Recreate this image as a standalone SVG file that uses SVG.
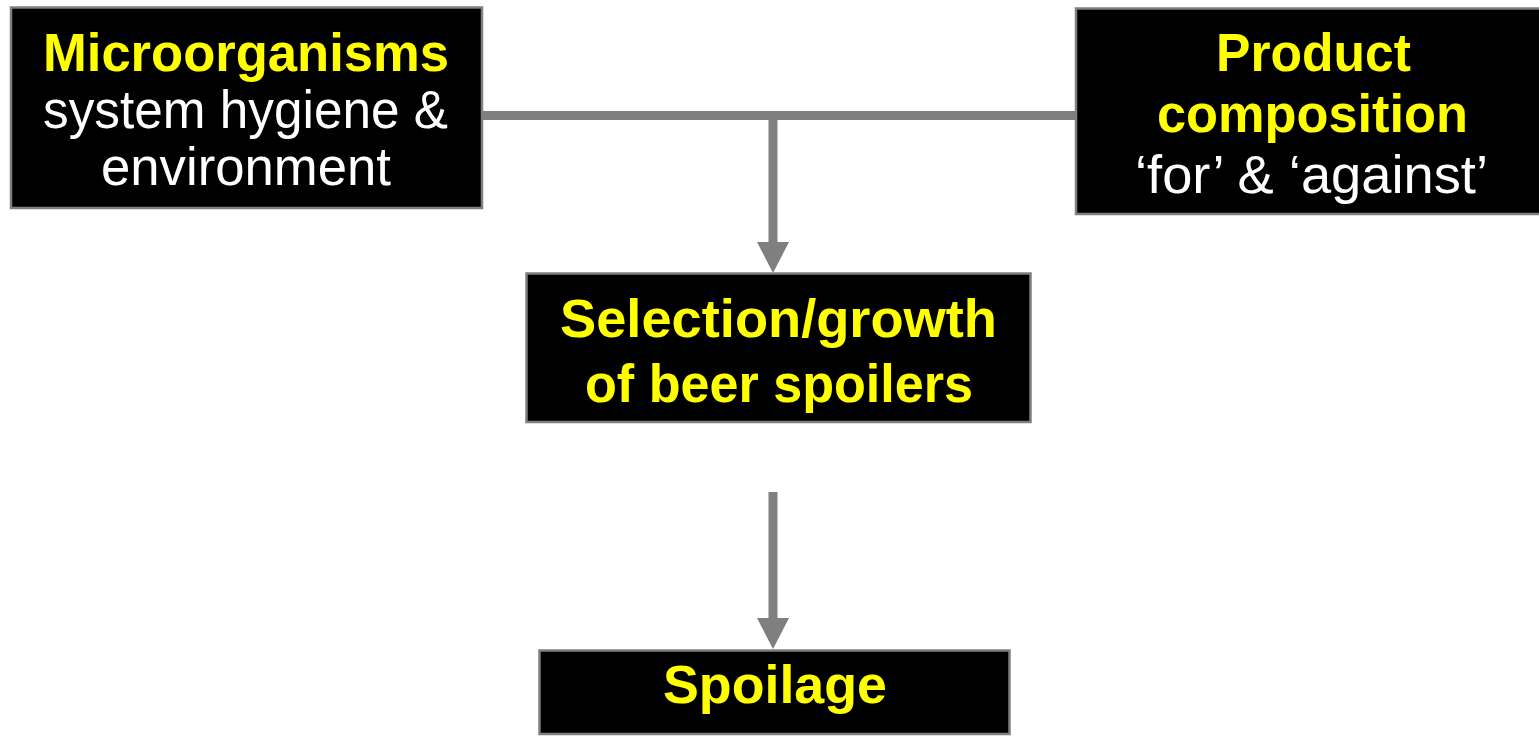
<svg xmlns="http://www.w3.org/2000/svg" width="1539" height="737" viewBox="0 0 1539 737">
<style>
.box{fill:#000;stroke:#7f7f7f;stroke-width:2.5}
.t{font-family:"Liberation Sans",Arial,sans-serif;font-size:53px}
.y{fill:#ffff00;font-weight:bold}
.w{fill:#fff}
.c{stroke:#7f7f7f;stroke-width:9;fill:none}
.h{fill:#7f7f7f}
</style>
<rect width="1539" height="737" fill="#fff"/>
<g id="connectors">
<line class="c" x1="482" y1="115.5" x2="1076" y2="115.5"/>
<line class="c" x1="773" y1="115" x2="773" y2="244"/>
<polygon class="h" points="757,242 789,242 773,273"/>
<line class="c" x1="773" y1="492" x2="773" y2="620"/>
<polygon class="h" points="757,618 789,618 773,649"/>
</g>
<g id="microorganisms">
<rect class="box" x="11" y="7.5" width="471" height="200.5"/>
<text class="t y" x="43" y="71" textLength="406" lengthAdjust="spacingAndGlyphs">Microorganisms</text>
<text class="t w" x="43" y="128" textLength="405" lengthAdjust="spacingAndGlyphs">system hygiene &amp;</text>
<text class="t w" x="101" y="185" textLength="290" lengthAdjust="spacingAndGlyphs">environment</text>
</g>
<g id="product">
<rect class="box" x="1076" y="8.5" width="466" height="205.5"/>
<text class="t y" x="1216" y="71" textLength="195" lengthAdjust="spacingAndGlyphs">Product</text>
<text class="t y" x="1157" y="132" textLength="311" lengthAdjust="spacingAndGlyphs">composition</text>
<text class="t w" x="1135" y="193" textLength="353" lengthAdjust="spacingAndGlyphs">‘for’ &amp; ‘against’</text>
</g>
<g id="selection">
<rect class="box" x="526.5" y="273.5" width="504" height="148.5"/>
<text class="t y" x="560" y="337" textLength="437" lengthAdjust="spacingAndGlyphs">Selection/growth</text>
<text class="t y" x="585" y="402" textLength="388" lengthAdjust="spacingAndGlyphs">of beer spoilers</text>
</g>
<g id="spoilage">
<rect class="box" x="539.5" y="650.5" width="470" height="83.5"/>
<text class="t y" x="663" y="703" textLength="224" lengthAdjust="spacingAndGlyphs">Spoilage</text>
</g>
</svg>
